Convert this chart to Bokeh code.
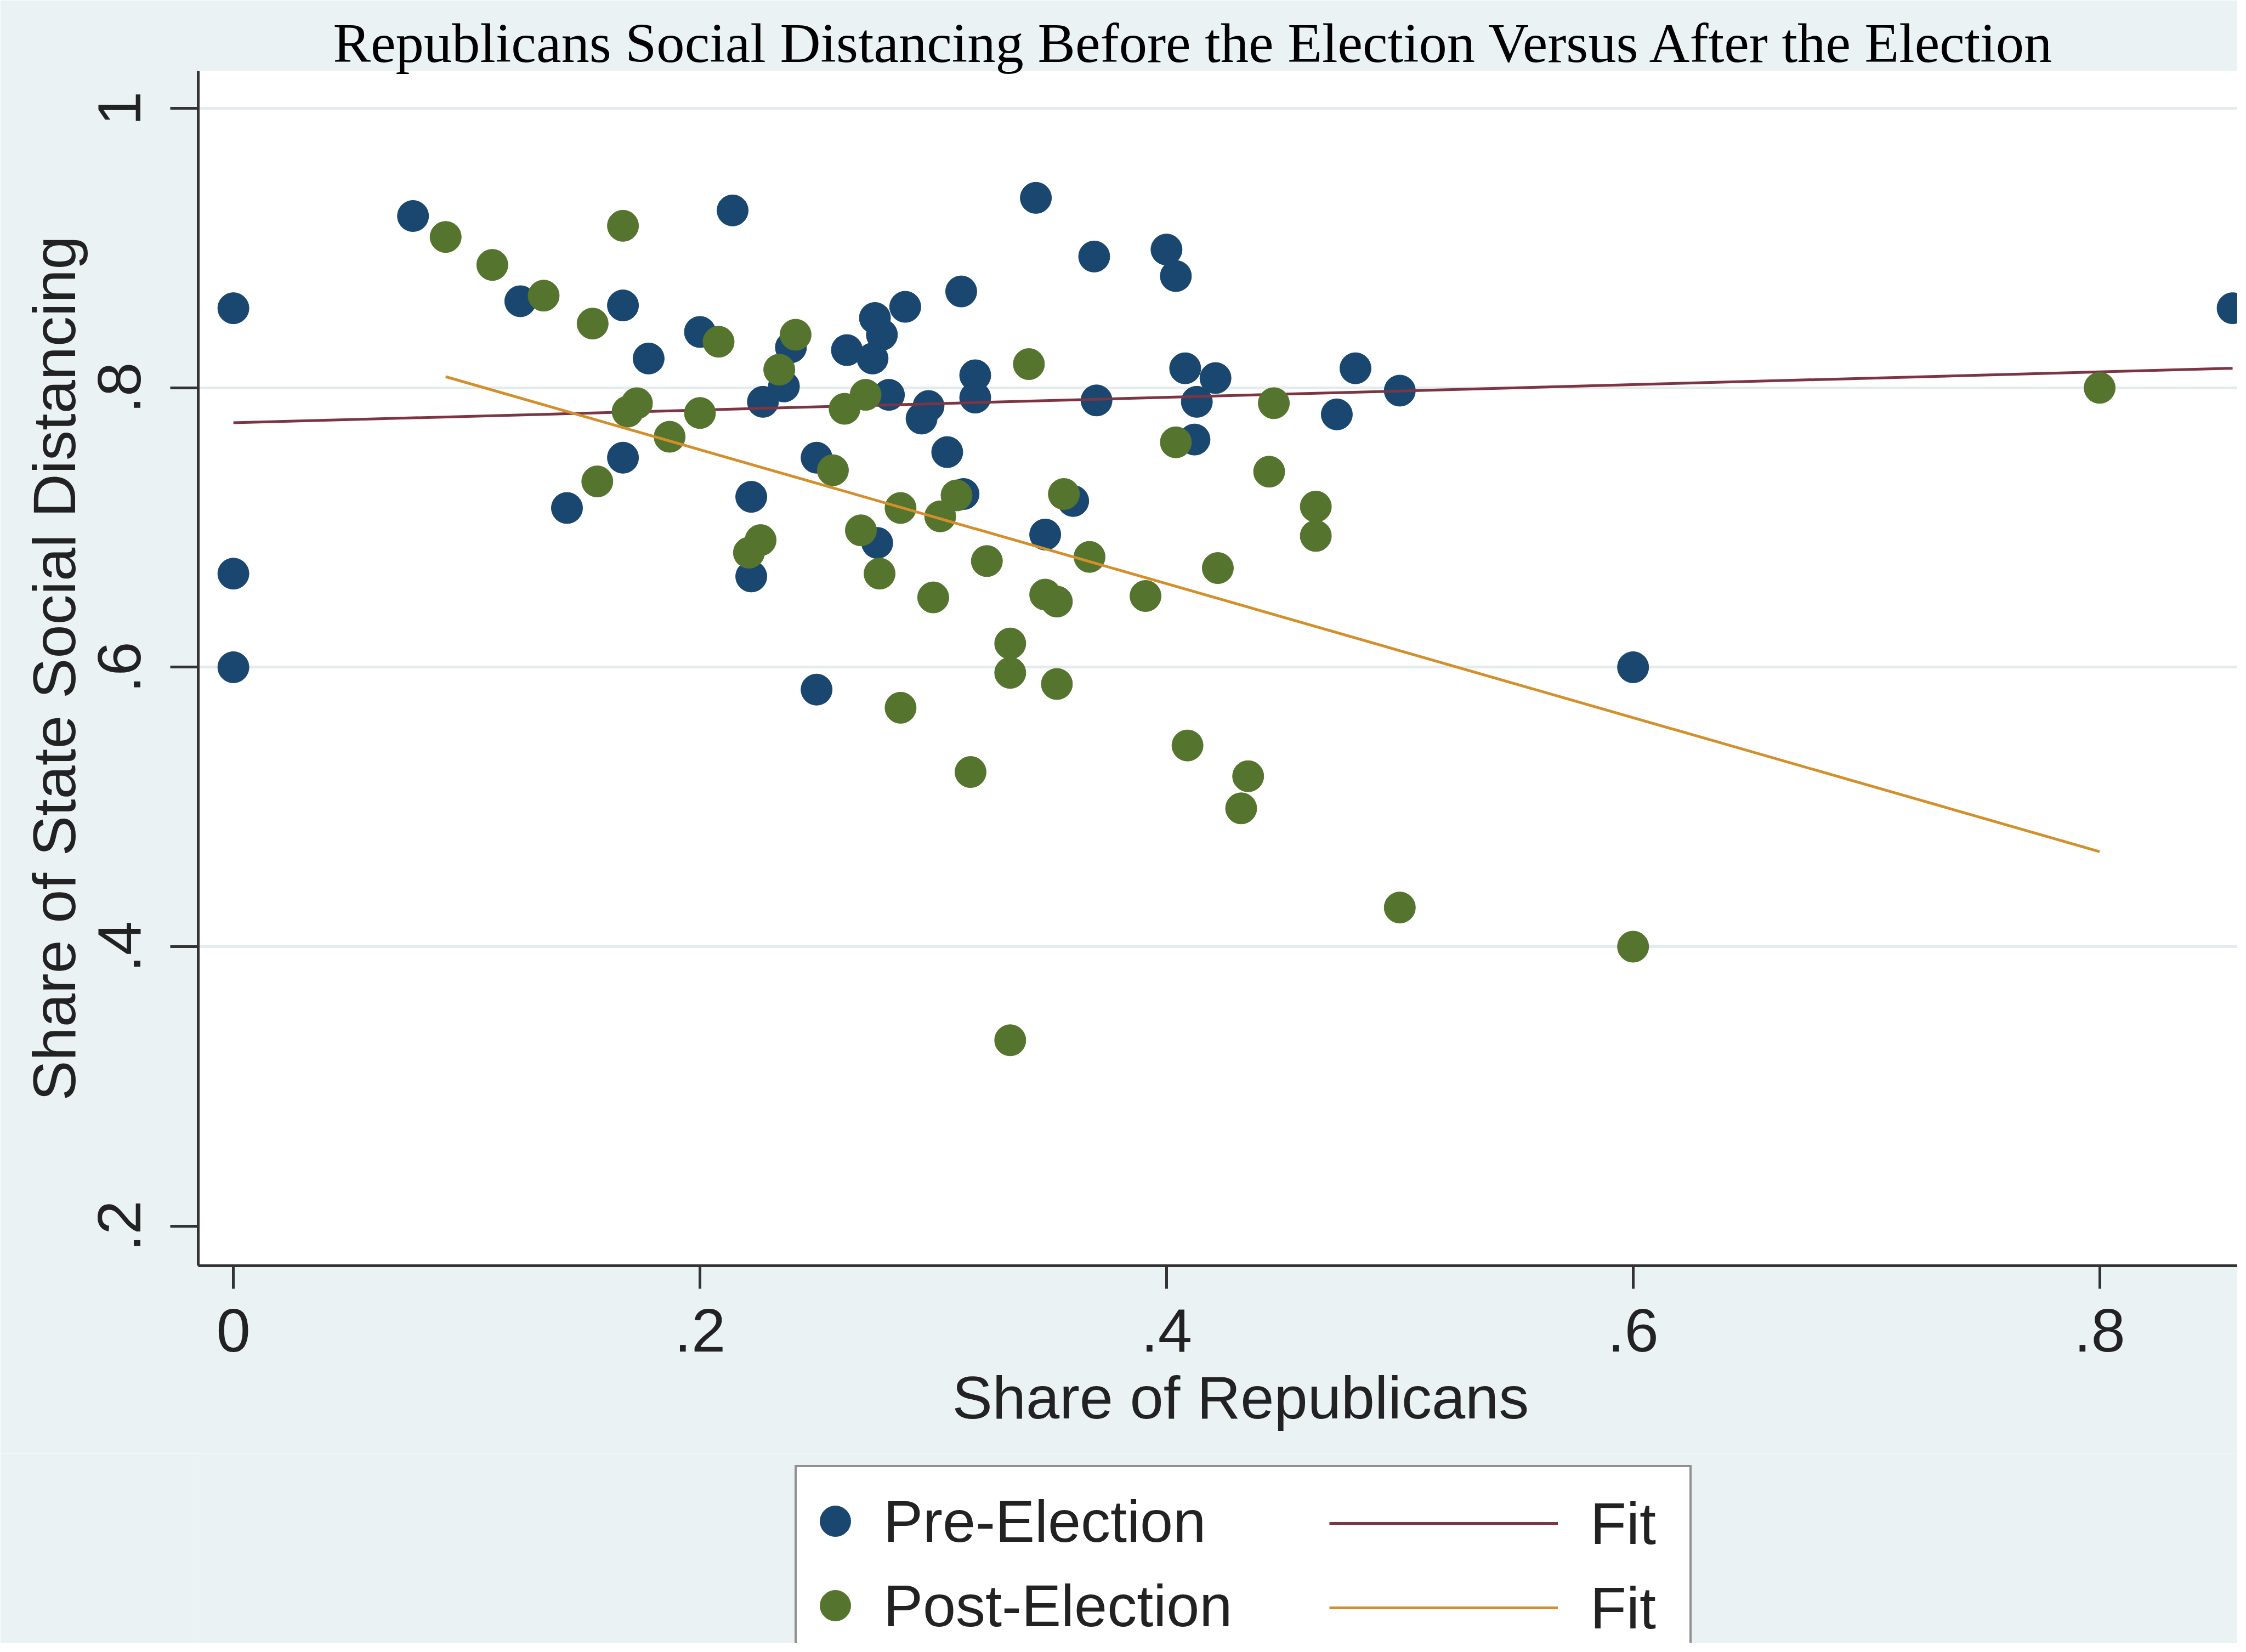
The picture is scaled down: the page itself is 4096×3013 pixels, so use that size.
import numpy as np
from bokeh.plotting import figure
from bokeh.layouts import column
from bokeh.models import Range1d, FixedTicker, Legend, LegendItem, Title
from bokeh.embed import file_html
from bokeh.resources import INLINE

# ---------------- data ----------------
title_text = "Republicans Social Distancing Before the Election Versus After the Election"
x_title = "Share of Republicans"
y_title = "Share of State Social Distancing"

x_ticks = [0, 0.2, 0.4, 0.6, 0.8]
x_tick_labels = ["0", ".2", ".4", ".6", ".8"]
y_ticks = [0.2, 0.4, 0.6, 0.8, 1.0]
y_tick_labels = [".2", ".4", ".6", ".8", "1"]
grid_ticks = [0.4, 0.6, 0.8, 1.0]

pre_x = [0.000, 0.000, 0.000, 0.077, 0.123, 0.167, 0.200, 0.178, 0.214, 0.167,
         0.143, 0.344, 0.369, 0.400, 0.404, 0.312, 0.288, 0.275, 0.278, 0.263,
         0.274, 0.239, 0.236, 0.227, 0.281, 0.298, 0.295, 0.318, 0.318, 0.370,
         0.408, 0.413, 0.412, 0.250, 0.306, 0.222, 0.313, 0.360, 0.276, 0.348,
         0.222, 0.250, 0.421, 0.481, 0.500, 0.473, 0.600, 0.857]
pre_y = [0.857, 0.667, 0.600, 0.923, 0.862, 0.859, 0.840, 0.821, 0.927, 0.750,
         0.714, 0.936, 0.894, 0.899, 0.880, 0.869, 0.858, 0.850, 0.838, 0.827,
         0.821, 0.829, 0.801, 0.790, 0.795, 0.787, 0.778, 0.809, 0.793, 0.791,
         0.814, 0.790, 0.763, 0.750, 0.754, 0.722, 0.724, 0.719, 0.689, 0.695,
         0.665, 0.584, 0.807, 0.814, 0.798, 0.781, 0.600, 0.857]

post_x = [0.091, 0.111, 0.133, 0.167, 0.154, 0.208, 0.173, 0.169, 0.200, 0.187,
          0.156, 0.241, 0.234, 0.262, 0.271, 0.257, 0.341, 0.286, 0.303, 0.310,
          0.356, 0.269, 0.226, 0.221, 0.277, 0.323, 0.367, 0.391, 0.422, 0.300,
          0.348, 0.353, 0.333, 0.333, 0.353, 0.286, 0.404, 0.446, 0.444, 0.464,
          0.464, 0.800, 0.600, 0.500, 0.333, 0.316, 0.409, 0.435, 0.432]
post_y = [0.908, 0.888, 0.866, 0.916, 0.846, 0.833, 0.789, 0.783, 0.782, 0.765,
          0.733, 0.838, 0.813, 0.785, 0.795, 0.741, 0.817, 0.714, 0.708, 0.723,
          0.724, 0.698, 0.691, 0.682, 0.667, 0.676, 0.679, 0.651, 0.671, 0.650,
          0.652, 0.647, 0.617, 0.596, 0.588, 0.571, 0.761, 0.789, 0.740, 0.715,
          0.694, 0.800, 0.400, 0.428, 0.333, 0.525, 0.544, 0.522, 0.499]

pre_fit_x = [0.000, 0.857]
pre_fit_y = [0.775, 0.814]
post_fit_x = [0.091, 0.800]
post_fit_y = [0.808, 0.468]

legend_labels = ["Pre-Election", "Post-Election"]
fit_label = "Fit"

# ---------------- style ----------------
NAVY = "#1a476f"
GREEN = "#55752f"
MAROON = "#7d3544"
ORANGE = "#d38f2c"
BG = "#eaf2f3"
AXIS = "#333333"
TXT = "#222222"
SANS = "Liberation Sans"

W = 4080
H_MAIN = 2650
H_LEG = 347
FRAME_LEFT = 361

p = figure(width=W, height=H_MAIN, output_backend="svg", toolbar_location=None,
           x_range=Range1d(-0.01507, 0.8591), y_range=Range1d(0.1716, 1.0268),
           min_border_left=FRAME_LEFT, min_border_right=0, min_border_top=129,
           min_border_bottom=H_MAIN - 2308)
p.background_fill_color = "white"
p.border_fill_color = BG
p.outline_line_color = None

p.title.text = title_text
p.title.text_font = "Liberation Serif"
p.title.text_font_size = "102.6px"
p.title.text_font_style = "normal"
p.title.text_color = "black"
p.title.align = "left"
p.title.offset = 246
p.title.standoff = -10

xa = p.xaxis[0]
xa.ticker = FixedTicker(ticks=x_ticks)
xa.major_label_overrides = dict(zip(x_ticks, x_tick_labels))
ya = p.yaxis[0]
ya.ticker = FixedTicker(ticks=y_ticks)
ya.major_label_overrides = dict(zip(y_ticks, y_tick_labels))
for ax in (xa, ya):
    ax.axis_line_color = AXIS
    ax.axis_line_width = 5
    ax.major_tick_line_color = AXIS
    ax.major_tick_line_width = 5
    ax.major_tick_in = 0
    ax.minor_tick_line_color = None
    ax.major_label_text_font = SANS
    ax.major_label_text_font_size = "112px"
    ax.major_label_text_color = TXT
    ax.axis_label_text_font = SANS
    ax.axis_label_text_font_size = "110px"
    ax.axis_label_text_font_style = "normal"
    ax.axis_label_text_color = TXT
xa.major_tick_out = 42
xa.major_label_standoff = 37
ya.axis_label = y_title
ya.major_tick_out = 51
ya.major_label_orientation = "vertical"
ya.major_label_standoff = 54
ya.axis_label_standoff = 17

# x-axis title as a below-title so it can sit where the reference centres it
xt = Title(text=x_title, align="left", offset=1375, vertical_align="top",
           standoff=38, text_font=SANS, text_font_size="110px",
           text_font_style="normal", text_color=TXT)
p.add_layout(xt, "below")

p.xgrid.visible = False
p.ygrid.ticker = FixedTicker(ticks=grid_ticks)
p.ygrid.grid_line_color = "#e4ebed"
p.ygrid.grid_line_width = 5

MS = 57
p.scatter(pre_x, pre_y, size=MS, fill_color=NAVY, line_color=NAVY, line_width=1)
p.line(pre_fit_x, pre_fit_y, line_color=MAROON, line_width=5)
p.scatter(post_x, post_y, size=MS, fill_color=GREEN, line_color=GREEN, line_width=1)
p.line(post_fit_x, post_fit_y, line_color=ORANGE, line_width=5)

# ---------------- legend strip (below the chart, cut by the page edge) ----------------
q = figure(width=W, height=H_LEG, output_backend="svg", toolbar_location=None,
           x_range=Range1d(0, 1), y_range=Range1d(0, 1),
           min_border_left=FRAME_LEFT, min_border_right=0, min_border_top=0,
           min_border_bottom=0, x_axis_location=None, y_axis_location=None)
q.background_fill_color = BG
q.border_fill_color = BG
q.outline_line_color = None
q.grid.visible = False

nan = [np.nan]
k_pre = q.scatter(nan, nan, fill_color=NAVY, line_color=NAVY, line_width=1)
k_post = q.scatter(nan, nan, fill_color=GREEN, line_color=GREEN, line_width=1)
k_pre_fit = q.line(nan, nan, line_color=MAROON, line_width=5)
k_post_fit = q.line(nan, nan, line_color=ORANGE, line_width=5)
k_blank = q.scatter(nan, nan, fill_alpha=0, line_alpha=0)

ROW = 154
common = dict(orientation="vertical", padding=0, spacing=0, glyph_height=ROW,
              label_text_font=SANS, label_text_font_size="108px",
              label_text_color=TXT, margin=0,
              title=" ", title_text_font_size="10px", title_standoff=10)
legA = Legend(items=[LegendItem(label=legend_labels[0], renderers=[k_pre]),
                     LegendItem(label=legend_labels[1], renderers=[k_post]),
                     LegendItem(label=" ", renderers=[k_blank])],
              location=(1088, -166),
              glyph_width=140, label_standoff=18, label_width=1470,
              border_line_color=TXT, border_line_width=4,
              background_fill_color="white", background_fill_alpha=1.0, **common)
legB = Legend(items=[LegendItem(label=fit_label, renderers=[k_pre_fit]),
                     LegendItem(label=fit_label, renderers=[k_post_fit])],
              location=(2063, -12),
              glyph_width=417, label_standoff=59,
              border_line_color=None, background_fill_alpha=0.0, **common)
q.add_layout(legA)
q.add_layout(legB)

layout = column(p, q, spacing=0)
open("out.html", "w").write(file_html(layout, INLINE))
